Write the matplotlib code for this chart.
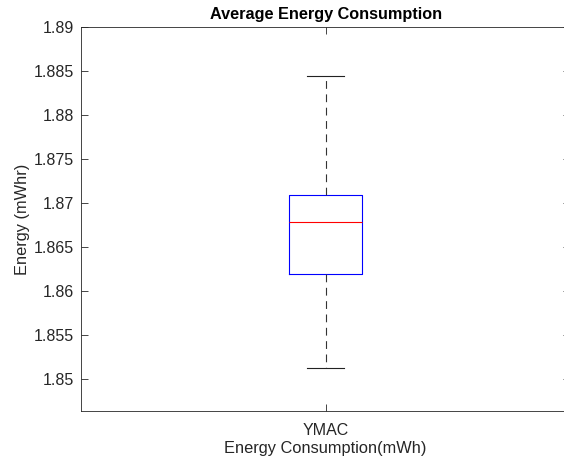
import matplotlib
matplotlib.use("Agg")
from matplotlib import pyplot as plt

# box statistics (mWhr)
labels = ["YMAC"]
whisker_low = [1.85117]
q1 = [1.86189]
median = [1.86779]
q3 = [1.87094]
whisker_high = [1.88447]

plt.rcParams['font.family'] = ['Liberation Sans', 'DejaVu Sans']

stats = []
for i, name in enumerate(labels):
    stats.append({
        'label': name, 'whislo': whisker_low[i], 'q1': q1[i], 'med': median[i],
        'q3': q3[i], 'whishi': whisker_high[i], 'fliers': [],
    })

fig = plt.figure(figsize=(5.64, 4.61), dpi=100)
ax = fig.add_axes([0.1441, 0.1091, 0.8665, 0.8317])

ax.bxp(stats, widths=0.15, showfliers=False,
       boxprops=dict(color='#0000ff', linewidth=0.8),
       medianprops=dict(color='#ff0000', linewidth=0.8),
       whiskerprops=dict(color='#333333', linewidth=0.8, linestyle=(0, (7, 5))),
       capprops=dict(color='#222222', linewidth=0.8))

ax.set_xlim(0.5, 1.5)
ax.set_ylim(1.84636, 1.89)
ax.set_yticks([1.85, 1.855, 1.86, 1.865, 1.87, 1.875, 1.88, 1.885, 1.89])
ax.set_yticklabels(['1.85', '1.855', '1.86', '1.865', '1.87', '1.875', '1.88', '1.885', '1.89'])
ax.tick_params(direction='in', length=5, width=0.6, labelsize=11.5, colors='#262626',
               top=True, right=True, pad=5)
ax.tick_params(axis='x', pad=9)
for s in ax.spines.values():
    s.set_linewidth(0.6)
    s.set_color('#262626')

ax.set_title("Average Energy Consumption", fontsize=11.7, fontweight='bold', pad=6)
ax.set_xlabel("Energy Consumption(mWh)", fontsize=11.8, color='#262626', labelpad=2)
ax.set_ylabel("Energy (mWhr)", fontsize=11.8, color='#262626', labelpad=3)

fig.savefig("out.png", dpi=100)
